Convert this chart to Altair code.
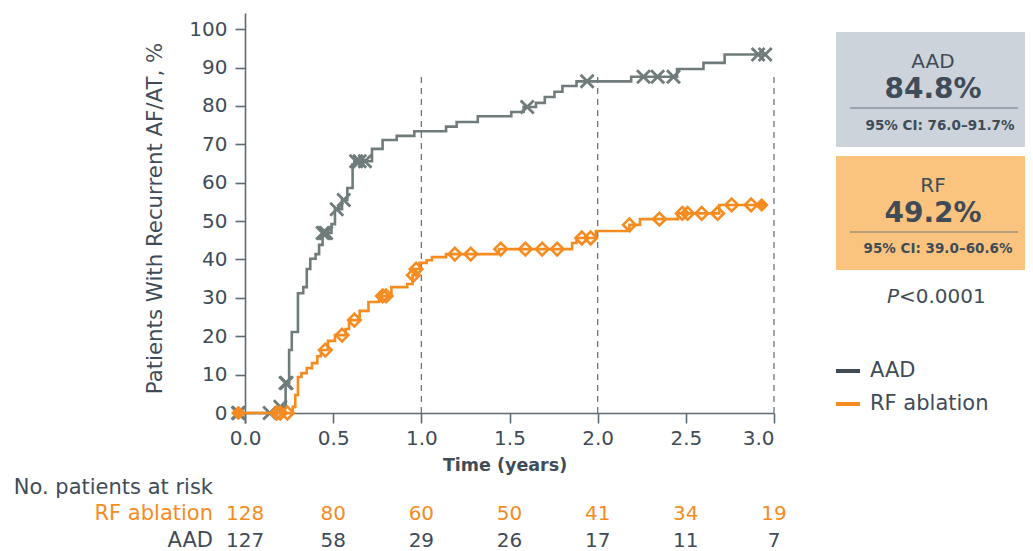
import altair as alt
import pandas as pd

FONT = "DejaVu Sans"
DARK = "#3f4c58"
GRAY = "#6f7c7b"
ORANGE = "#f68b1f"
AXIS = "#5f6b74"

# ---- Kaplan-Meier step curves (time in years, cumulative % with recurrence)
aad_t = [-0.04, 0.20, 0.23, 0.25, 0.265, 0.30, 0.33, 0.35, 0.37, 0.40, 0.42, 0.44, 0.49, 0.51,
         0.55, 0.58, 0.61, 0.62, 0.72, 0.78, 0.86, 0.96, 1.14, 1.20, 1.32, 1.51, 1.58, 1.65,
         1.70, 1.755, 1.80, 1.88, 2.19, 2.45, 2.60, 2.72, 2.95]
aad_v = [0, 1.6, 7.8, 16.4, 21.1, 31.2, 32.8, 37.5, 40.2, 41.4, 43.8, 46.9, 49.2, 53.1,
         55.5, 58.6, 64.8, 65.6, 68.8, 71.1, 72.2, 73.4, 74.6, 75.8, 77.3, 78.4, 79.7, 80.8,
         82.3, 83.7, 85.2, 86.4, 87.6, 89.6, 91.2, 93.4, 93.4]

rf_t = [-0.04, 0.27, 0.285, 0.30, 0.32, 0.35, 0.38, 0.41, 0.43, 0.47, 0.51, 0.57, 0.59, 0.65,
        0.70, 0.76, 0.83, 0.92, 0.95, 0.965, 0.99, 1.03, 1.06, 1.14, 1.44, 1.855, 1.88, 1.99,
        2.18, 2.24, 2.455, 2.69, 2.94]
rf_v = [0, 1.6, 4.7, 9.4, 10.4, 11.7, 13.0, 14.8, 16.4, 18.8, 20.3, 21.9, 24.2, 26.6,
        28.9, 30.5, 32.8, 33.6, 35.9, 37.5, 39.1, 39.8, 40.6, 41.4, 42.7, 44.3, 45.6, 47.4,
        49.0, 50.5, 52.0, 54.2, 54.2]

# ---- censored observations
aad_ct = [-0.04, -0.035, 0.14, 0.20, 0.23, 0.235, 0.44, 0.45, 0.46, 0.52, 0.56, 0.63, 0.65,
          0.68, 1.60, 1.94, 2.26, 2.34, 2.43, 2.91, 2.95]
aad_cv = [0, 0, 0, 1.6, 7.8, 7.8, 46.9, 46.9, 46.9, 53.1, 55.5, 65.6, 65.6,
          65.6, 79.7, 86.4, 87.6, 87.6, 87.6, 93.4, 93.4]

rf_ct = [-0.04, -0.035, 0.18, 0.20, 0.24, 0.455, 0.55, 0.62, 0.78, 0.80, 0.955, 0.97, 1.19,
         1.28, 1.45, 1.59, 1.685, 1.77, 1.91, 1.96, 2.18, 2.35, 2.48, 2.51, 2.59, 2.68, 2.76,
         2.87, 2.93]
rf_cv = [0, 0, 0, 0, 0, 16.4, 20.3, 24.2, 30.5, 30.5, 35.9, 37.5, 41.4,
         41.4, 42.7, 42.7, 42.7, 42.7, 45.6, 45.6, 49.0, 50.5, 52.0, 52.0, 52.0, 52.0, 54.2,
         54.2, 54.2]
rf_cfill = [1, 1, 0, 0, 0, 0, 0, 0, 0, 0, 0, 0, 0,
            0, 0, 0, 0, 0, 0, 0, 0, 0, 0, 0, 0, 0, 0,
            0, 1]

# ---- reference lines and at-risk table
ref_t = [1.0, 2.0, 3.0]
ref_top = 88.5
risk_t = [0.0, 0.5, 1.0, 1.5, 2.0, 2.5, 3.0]
risk_rf = [128, 80, 60, 50, 41, 34, 19]
risk_aad = [127, 58, 29, 26, 17, 11, 7]

aad_df = pd.DataFrame({"t": aad_t, "v": aad_v})
rf_df = pd.DataFrame({"t": rf_t, "v": rf_v})
aad_c_df = pd.DataFrame({"t": aad_ct, "v": aad_cv})
rf_c_df = pd.DataFrame({"t": rf_ct, "v": rf_cv, "f": rf_cfill})
ref_df = pd.DataFrame({"t": ref_t, "v": [0] * len(ref_t), "v2": [ref_top] * len(ref_t)})
risk_df = pd.DataFrame({"t": risk_t, "rf": risk_rf, "aad": risk_aad})

xscale = alt.Scale(domain=[-0.057, 3.0], nice=False, zero=False)
yscale = alt.Scale(domain=[-2.6, 104.2], nice=False, zero=False)

x_axis = alt.Axis(values=risk_t, format=".1f", offset=-10, tickSize=10, labelPadding=5,
                  title="Time (years)", titleFontWeight="bold", titleFontSize=17.5, titlePadding=8)
y_axis = alt.Axis(values=list(range(0, 101, 10)), format="d", offset=-10, tickSize=10,
                  labelPadding=8, title="Patients With Recurrent AF/AT, %",
                  titleFontWeight=400, titleFontSize=21.3, titlePadding=23)

X = alt.X("t:Q", scale=xscale, axis=x_axis)
Y = alt.Y("v:Q", scale=yscale, axis=y_axis)

refs = alt.Chart(ref_df).mark_rule(color="#6b7580", strokeDash=[6, 5], strokeWidth=1.3).encode(
    x=X, y=Y, y2="v2:Q")

aad_line = alt.Chart(aad_df).mark_line(interpolate="step-after", color=GRAY, strokeWidth=2.6).encode(x=X, y=Y)
rf_line = alt.Chart(rf_df).mark_line(interpolate="step-after", color=ORANGE, strokeWidth=2.6).encode(x=X, y=Y)

XPATH = "M-1,-1L1,1M-1,1L1,-1"
aad_marks = alt.Chart(aad_c_df).mark_point(shape=XPATH, filled=False, color=GRAY, size=170,
                                           strokeWidth=2.8, opacity=1).encode(x=X, y=Y)
rf_marks = alt.Chart(rf_c_df).transform_filter("datum.f == 0").mark_point(
    shape="diamond", filled=False, color=ORANGE, size=160, strokeWidth=2.6, opacity=1).encode(x=X, y=Y)
rf_marks_f = alt.Chart(rf_c_df).transform_filter("datum.f == 1").mark_point(
    shape="diamond", filled=True, color=ORANGE, size=200, opacity=1).encode(x=X, y=Y)

risk_rf_txt = alt.Chart(risk_df).mark_text(font=FONT, fontSize=20, color=ORANGE).encode(
    x=X, y=alt.value(501), text="rf:Q")
risk_aad_txt = alt.Chart(risk_df).mark_text(font=FONT, fontSize=20, color=DARK).encode(
    x=X, y=alt.value(528), text="aad:Q")

one = pd.DataFrame({"k": [0]})


def ptext(txt, x, y, size=20, weight=400, align="center", color=DARK, style="normal"):
    return alt.Chart(one).mark_text(font=FONT, fontSize=size, fontWeight=weight, align=align,
                                    baseline="middle", color=color, fontStyle=style).encode(
        x=alt.value(x), y=alt.value(y), text=alt.value(txt))


def prule(x1, x2, y, color, width):
    return alt.Chart(one).mark_rule(color=color, strokeWidth=width).encode(
        x=alt.value(x1), x2=alt.value(x2), y=alt.value(y))


def prect(x1, x2, y1, y2, color):
    return alt.Chart(one).mark_rect(color=color).encode(
        x=alt.value(x1), x2=alt.value(x2), y=alt.value(y1), y2=alt.value(y2))


side = [
    prect(601, 800, 19, 134, "#cdd3da"),
    ptext("AAD", 698, 49, size=20),
    ptext("84.8%", 698, 77, size=28, weight=700),
    prule(615, 783, 95, "#6d7780", 1.2),
    ptext("95% CI: 76.0\u201391.7%", 705, 113, size=13.5, weight=700),
    prect(601, 800, 143, 257, "#fbc47e"),
    ptext("RF", 698, 173, size=20),
    ptext("49.2%", 698, 201, size=28, weight=700),
    prule(615, 783, 219, "#6d7780", 1.2),
    ptext("95% CI: 39.0\u201360.6%", 703, 236, size=13.5, weight=700),
    ptext("P", 664, 284, size=20, align="right", style="italic"),
    ptext("<0.0001", 664, 284, size=20, align="left"),
    prule(601, 625, 358, DARK, 4),
    ptext("AAD", 635, 358, size=21, align="left"),
    prule(601, 625, 391, ORANGE, 4),
    ptext("RF ablation", 635, 391, size=21, align="left"),
    ptext("No. patients at risk", -22, 475, size=21, align="right"),
    ptext("RF ablation", -22, 501, size=21, align="right", color=ORANGE),
    ptext("AAD", -22, 528, size=21, align="right"),
]

chart = alt.layer(
    refs, aad_line, aad_marks, rf_line, rf_marks, rf_marks_f, risk_rf_txt, risk_aad_txt, *side
).properties(
    width=539, height=410,
    padding={"left": 227, "top": 5, "right": 251, "bottom": 136},
    autosize=alt.AutoSizeParams(type="none"),
).configure_view(stroke=None).configure_axis(
    grid=False, domainColor=AXIS, tickColor=AXIS, domainWidth=1.6, tickWidth=1.6,
    labelFont=FONT, titleFont=FONT, labelFontSize=20, labelColor=DARK, titleColor=DARK,
)

chart.save("out.html", embed_options={"renderer": "svg", "actions": False})
